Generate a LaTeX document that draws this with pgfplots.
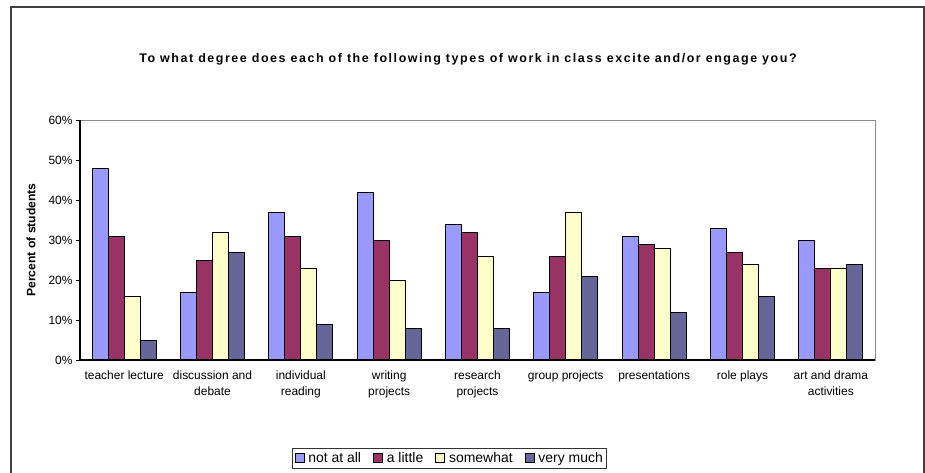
\documentclass[border=0pt]{standalone}
\usepackage{pgfplots}
\pgfplotsset{compat=1.18}
\usepackage{fontspec}
\setmainfont{Liberation Sans}

\definecolor{notatall}{HTML}{9999FF}
\definecolor{alittle}{HTML}{993366}
\definecolor{somewhat}{HTML}{FFFFCC}
\definecolor{verymuch}{HTML}{666699}

\begin{document}
\begin{tikzpicture}
\useasboundingbox (0bp,0bp) rectangle (925bp,-473bp);
\draw[line width=1.3bp, black!75] (11bp,-7bp) rectangle (924bp,-500bp);
\node[font=\bfseries\fontsize{12.5}{14}\selectfont\addfontfeature{LetterSpace=12.5}] at (468bp,-59bp)
  {To what degree does each of the following types of work in class excite and/or engage you?};
\begin{axis}[
    at={(80bp,-360bp)}, anchor=south west,
    width=795bp, height=240bp, scale only axis,
    ybar=0pt, bar width=16bp,
    ymin=0, ymax=60, ytick={0,10,...,60},
    yticklabel={\pgfmathprintnumber{\tick}\%},
    xmin=-0.5, xmax=8.5,
    xtick={0,...,8},
    xticklabels={teacher lecture,discussion and\\debate,individual\\reading,writing\\projects,research\\projects,group projects,presentations,role plays,art and drama\\activities},
    x tick label style={align=center, font=\fontsize{12}{16}\selectfont, yshift=-3bp},
    y tick label style={font=\fontsize{12}{14}\selectfont},
    /pgf/number format/assume math mode=true,
    major x tick style={draw=none},
    extra x ticks={-0.5,0.5,...,8.5},
    extra x tick labels={},
    extra x tick style={major tick style={draw=black, line width=0.8bp}},
    tick align=outside, major tick length=4bp,
    xtick pos=bottom, ytick pos=left,
    ytick style={draw=black, line width=0.8bp},
    axis line style={draw=black!45, line width=1bp},
    ylabel={Percent of students},
    ylabel style={font=\bfseries\fontsize{12.2}{14}\selectfont, at={(axis description cs:-0.0616,0.5)}, anchor=center},
    legend style={at={(0.465,-0.367)}, anchor=north, legend columns=-1,
      draw=black!80, line width=0.8bp, font=\fontsize{14}{16}\selectfont,
      inner sep=2bp,
      /tikz/every odd column/.append style={column sep=2bp},
      /tikz/every even column/.append style={column sep=10bp}},
    legend image code/.code={\draw[#1] (0bp,-4bp) rectangle (9bp,5bp);},
    every axis plot/.append style={draw=black, line width=0.8bp},
    after end axis/.code={
      \draw[black, line width=1.2bp] (rel axis cs:0,1) -- (rel axis cs:0,0) -- (rel axis cs:1,0);
    },
]
\addplot[fill=notatall] coordinates {(0,48) (1,17) (2,37) (3,42) (4,34) (5,17) (6,31) (7,33) (8,30)};
\addplot[fill=alittle] coordinates {(0,31) (1,25) (2,31) (3,30) (4,32) (5,26) (6,29) (7,27) (8,23)};
\addplot[fill=somewhat] coordinates {(0,16) (1,32) (2,23) (3,20) (4,26) (5,37) (6,28) (7,24) (8,23)};
\addplot[fill=verymuch] coordinates {(0,5) (1,27) (2,9) (3,8) (4,8) (5,21) (6,12) (7,16) (8,24)};
\legend{not at all,a little,somewhat,very much}
\end{axis}
\end{tikzpicture}
\end{document}
